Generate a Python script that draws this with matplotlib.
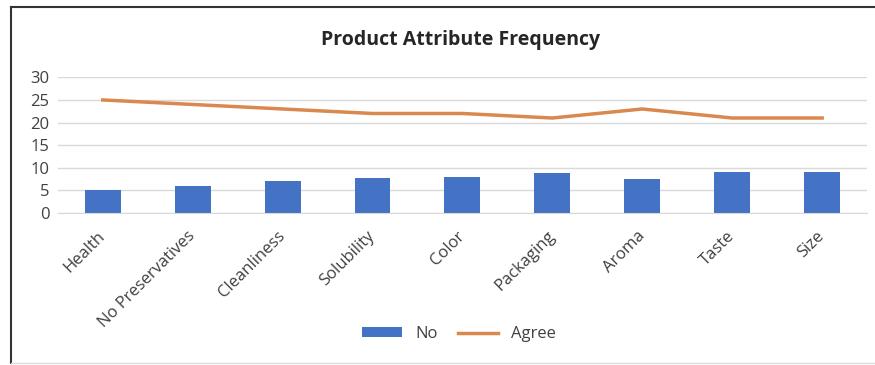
import matplotlib.pyplot as plt
import numpy as np
from matplotlib.lines import Line2D
from matplotlib.patches import Patch

categories = ["Health", "No Preservatives", "Cleanliness", "Solubility", "Color",
              "Packaging", "Aroma", "Taste", "Size"]
no_values = [5, 6, 7, 7.8, 7.9, 8.8, 7.4, 9, 9]
agree_values = [25, 24, 23, 22, 22, 21, 23, 21, 21]

BAR_COLOR = "#4472C4"
LINE_COLOR = "#D9894E"
GRID_COLOR = "#D9D9D9"
TEXT_COLOR = "#404040"

plt.rcParams["font.family"] = ["Open Sans", "DejaVu Sans"]

fig = plt.figure(figsize=(8.75, 3.65), dpi=100)
ax = fig.add_axes([0.066, 0.417, 0.925, 0.371])

x = np.arange(len(categories))
ax.bar(x, no_values, width=0.4, color=BAR_COLOR, zorder=2)
ax.plot(x, agree_values, color=LINE_COLOR, linewidth=2.5, zorder=3)

ax.set_xlim(-0.5, len(categories) - 0.5)
ax.set_ylim(0, 30)
ax.set_yticks(range(0, 31, 5))
ax.yaxis.grid(True, color=GRID_COLOR, linewidth=1)
ax.set_axisbelow(True)
for side in ["top", "right", "left"]:
    ax.spines[side].set_visible(False)
ax.spines["bottom"].set_color(GRID_COLOR)
ax.tick_params(axis="both", length=0, colors=TEXT_COLOR, labelsize=12)
ax.tick_params(axis="y", pad=6)
ax.set_xticks(x)
ax.set_xticklabels(categories, rotation=45, ha="right", va="center",
                   rotation_mode="anchor")
ax.tick_params(axis="x", pad=15)

fig.text(0.526, 0.89, "Product Attribute Frequency", ha="center", va="center",
         fontsize=14, fontweight="bold", color="#262626")

handles = [Patch(facecolor=BAR_COLOR, label="No"),
           Line2D([0], [0], color=LINE_COLOR, linewidth=2.5, label="Agree")]
fig.legend(handles=handles, loc="center", bbox_to_anchor=(0.525, 0.085), ncol=2,
           frameon=False, fontsize=12, handlelength=2.4, handleheight=0.5,
           handletextpad=0.8, columnspacing=1.2, labelcolor=TEXT_COLOR)

# chart frame
fig.add_artist(Line2D([0.012, 0.012], [0.005, 0.981], transform=fig.transFigure,
                      color="#333333", linewidth=1.5))
fig.add_artist(Line2D([0.012, 1.0], [0.981, 0.981], transform=fig.transFigure,
                      color="#333333", linewidth=1.5))
fig.add_artist(Line2D([0.012, 1.0], [0.006, 0.006], transform=fig.transFigure,
                      color="#DDDDDD", linewidth=1))

fig.savefig("out.png", dpi=100, facecolor="white")
